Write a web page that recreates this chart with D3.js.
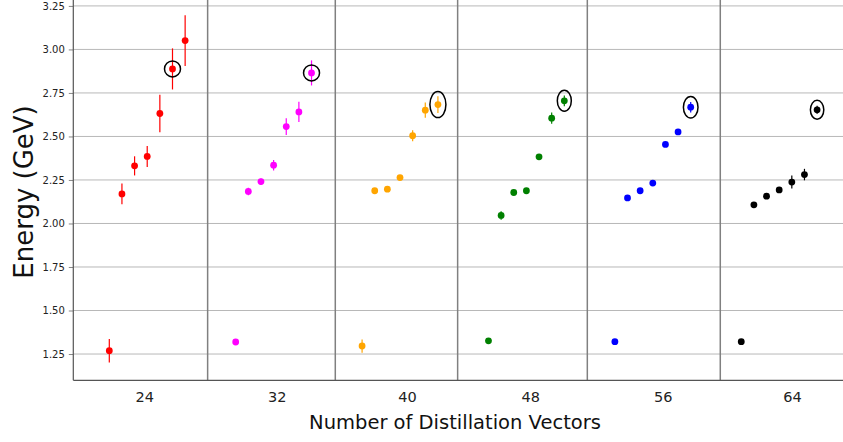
<!DOCTYPE html>
<html>
<head>
<meta charset="utf-8">
<script src="https://cdn.jsdelivr.net/npm/d3@7"></script>
<style>
  body { margin: 0; background: #fff; }
  svg { display: block; font-family: "DejaVu Sans", sans-serif; }
</style>
</head>
<body>
<svg id="chart" width="843" height="442"></svg>
<script>
// number of distillation vectors per group
var groupLabels = ["24", "32", "40", "48", "56", "64"];

// energies (GeV) for the 7 levels in each group
var energyRed     = [1.269, 2.170, 2.331, 2.385, 2.632, 2.888, 3.051];
var energyMagenta = [1.319, 2.184, 2.241, 2.335, 2.557, 2.641, 2.865];
var energyOrange  = [1.296, 2.188, 2.197, 2.264, 2.504, 2.651, 2.683];
var energyGreen   = [1.326, 2.046, 2.178, 2.188, 2.383, 2.605, 2.705];
var energyBlue    = [1.321, 2.147, 2.188, 2.232, 2.454, 2.526, 2.668];
var energyBlack   = [1.321, 2.107, 2.157, 2.193, 2.238, 2.281, 2.653];

// errors (GeV)
var errorRed     = [0.068, 0.059, 0.055, 0.060, 0.108, 0.118, 0.146];
var errorMagenta = [0.008, 0.022, 0.018, 0.030, 0.048, 0.058, 0.072];
var errorOrange  = [0.038, 0.008, 0.008, 0.012, 0.032, 0.044, 0.048];
var errorGreen   = [0.006, 0.024, 0.008, 0.008, 0.012, 0.032, 0.031];
var errorBlue    = [0.005, 0.006, 0.006, 0.008, 0.008, 0.010, 0.030];
var errorBlack   = [0.005, 0.015, 0.010, 0.010, 0.037, 0.033, 0.023];

// which level is circled in each group
var highlightIndex = [5, 6, 6, 6, 6, 6];

// x positions (slot units) of tick labels and group separators
var tickSlots = [2.77, 13.24, 23.55, 33.31, 43.78, 54.01];
var separatorSlots = [7.78, 17.88, 27.56, 37.82, 48.34];

var yTicks = [1.25, 1.50, 1.75, 2.00, 2.25, 2.50, 2.75, 3.00, 3.25];

var energies = [energyRed, energyMagenta, energyOrange, energyGreen, energyBlue, energyBlack];
var errors = [errorRed, errorMagenta, errorOrange, errorGreen, errorBlue, errorBlack];
var colors = ["#ff0000", "#ff00ff", "#ffa500", "#008000", "#0000ff", "#000000"];
var ellipseSize = [[8, 8], [8, 8], [8, 13], [7, 10.5], [7.3, 10.8], [6.7, 9.5]];

var left = 73.3, bottom = 380.3, right = 850;

var svg = d3.select("#chart");

var xScale = d3.scaleLinear().domain([0, 56]).range([109.3, 817.1]);
var yScale = d3.scaleLinear().domain([1.099, 3.284]).range([bottom, 0]);

// horizontal grid
svg.append("g")
  .selectAll("line")
  .data(yTicks)
  .enter().append("line")
  .attr("x1", left).attr("x2", right)
  .attr("y1", d => yScale(d)).attr("y2", d => yScale(d))
  .attr("stroke", "#b8b8b8")
  .attr("stroke-width", 1);

// group separators
svg.append("g")
  .selectAll("line")
  .data(separatorSlots)
  .enter().append("line")
  .attr("x1", d => xScale(d)).attr("x2", d => xScale(d))
  .attr("y1", 0).attr("y2", bottom)
  .attr("stroke", "#808080")
  .attr("stroke-width", 1.5);

// y axis
var yAxis = svg.append("g")
  .attr("transform", "translate(" + left + ",0)")
  .call(d3.axisLeft(yScale).tickValues(yTicks).tickFormat(d3.format(".2f")).tickSize(4.5).tickPadding(4));
yAxis.select(".domain").remove();
yAxis.selectAll(".tick line").attr("stroke", "#888");
yAxis.selectAll("text").attr("font-size", 10).attr("fill", "#222").attr("font-family", "DejaVu Sans");

// x axis labels
var xAxis = svg.append("g")
  .attr("transform", "translate(0," + bottom + ")")
  .call(d3.axisBottom(xScale).tickValues(tickSlots).tickFormat((d, i) => groupLabels[i]).tickSize(0).tickPadding(11));
xAxis.select(".domain").remove();
xAxis.selectAll("text").attr("font-size", 14.5).attr("fill", "#222").attr("font-family", "DejaVu Sans");

// spines
svg.append("line")
  .attr("x1", left).attr("x2", left).attr("y1", 0).attr("y2", bottom)
  .attr("stroke", "#555").attr("stroke-width", 1.2);
svg.append("line")
  .attr("x1", left).attr("x2", right).attr("y1", bottom).attr("y2", bottom)
  .attr("stroke", "#555").attr("stroke-width", 1.2);

// points
var points = [];
energies.forEach((series, g) => {
  series.forEach((v, i) => {
    points.push({ g: g, i: i, slot: g * 10 + i, value: v, err: errors[g][i] });
  });
});

var marks = svg.append("g");
marks.selectAll("line")
  .data(points)
  .enter().append("line")
  .attr("x1", d => xScale(d.slot)).attr("x2", d => xScale(d.slot))
  .attr("y1", d => yScale(d.value - d.err)).attr("y2", d => yScale(d.value + d.err))
  .attr("stroke", d => colors[d.g])
  .attr("stroke-width", 1.2);

marks.selectAll("circle")
  .data(points)
  .enter().append("circle")
  .attr("cx", d => xScale(d.slot))
  .attr("cy", d => yScale(d.value))
  .attr("r", 3.4)
  .attr("fill", d => colors[d.g]);

// highlight ellipses
svg.append("g")
  .selectAll("ellipse")
  .data(highlightIndex)
  .enter().append("ellipse")
  .attr("cx", (d, g) => xScale(g * 10 + d))
  .attr("cy", (d, g) => yScale(energies[g][d]))
  .attr("rx", (d, g) => ellipseSize[g][0])
  .attr("ry", (d, g) => ellipseSize[g][1])
  .attr("fill", "none")
  .attr("stroke", "#000")
  .attr("stroke-width", 1.5);

// axis titles
svg.append("text")
  .attr("transform", "translate(33,192) rotate(-90)")
  .attr("text-anchor", "middle")
  .attr("font-size", 26)
  .attr("fill", "#111")
  .text("Energy (GeV)");

svg.append("text")
  .attr("x", 455).attr("y", 429)
  .attr("text-anchor", "middle")
  .attr("font-size", 19.5)
  .attr("fill", "#111")
  .text("Number of Distillation Vectors");
</script>
</body>
</html>
